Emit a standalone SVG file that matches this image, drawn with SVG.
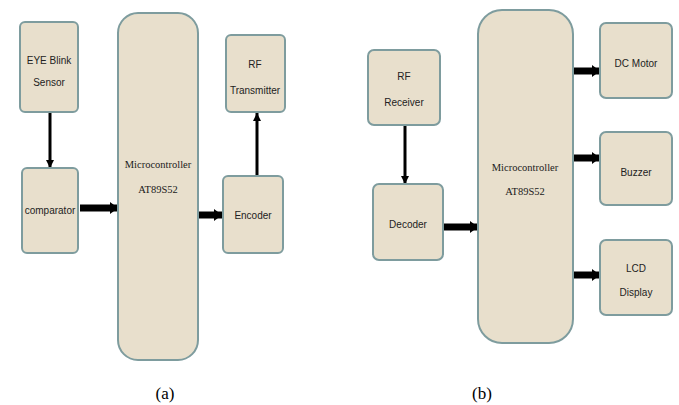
<svg xmlns="http://www.w3.org/2000/svg" width="679" height="405" viewBox="0 0 679 405">
<style>
.box{fill:#E8DFCC;stroke:#7E9C9E;stroke-width:2}
.lbl{font-family:"Liberation Sans Narrow","Liberation Sans",Arial,sans-serif;font-size:10px;fill:#222;text-anchor:middle}
.mc{font-family:"Liberation Serif","Times New Roman",serif;font-size:10.5px;fill:#1a1a1a;text-anchor:middle}
.cap{font-family:"Liberation Serif","Times New Roman",serif;font-size:17px;fill:#000;text-anchor:middle}
.thin{stroke:#000;stroke-width:3;fill:none}
.thick{stroke:#000;stroke-width:7;fill:none}
</style>
<defs>
<marker id="ah" markerUnits="userSpaceOnUse" markerWidth="10" markerHeight="12" refX="8" refY="6" orient="auto">
<path d="M0,0 L8,6 L0,12 z" fill="#000"/>
</marker>
<marker id="ahs" markerUnits="userSpaceOnUse" markerWidth="10" markerHeight="10" refX="8" refY="5" orient="auto">
<path d="M0,1 L8,5 L0,9 z" fill="#000"/>
</marker>
</defs>
<rect width="679" height="405" fill="#fff"/>
<g id="connectors">
<line class="thin" x1="50" y1="112" x2="50" y2="168" marker-end="url(#ahs)"/>
<line class="thick" x1="80" y1="208" x2="118" y2="208" marker-end="url(#ah)"/>
<line class="thick" x1="198" y1="215" x2="222" y2="215" marker-end="url(#ah)"/>
<line class="thin" x1="257" y1="176" x2="257" y2="113" marker-end="url(#ahs)"/>
<line class="thin" x1="405" y1="125" x2="405" y2="184" stroke-width="2" marker-end="url(#ahs)"/>
<line class="thick" x1="444" y1="227" x2="478" y2="227" marker-end="url(#ah)"/>
<line class="thick" x1="573" y1="71" x2="600" y2="71" marker-end="url(#ah)"/>
<line class="thick" x1="573" y1="158" x2="600" y2="158" marker-end="url(#ah)"/>
<line class="thick" x1="573" y1="275" x2="600" y2="275" marker-end="url(#ah)"/>
</g>
<g id="eye-blink">
<rect class="box" x="20" y="22" width="58" height="90" rx="5"/>
<text class="lbl" x="49" y="64">EYE Blink</text>
<text class="lbl" x="49" y="86">Sensor</text>
</g>
<g id="comparator">
<rect class="box" x="22" y="168" width="56" height="85" rx="5"/>
<text class="lbl" x="50" y="214">comparator</text>
</g>
<g id="mcu-a">
<rect class="box" x="118" y="13" width="80" height="347" rx="20"/>
<text class="mc" x="158" y="168">Microcontroller</text>
<text class="mc" x="158" y="193">AT89S52</text>
</g>
<g id="encoder">
<rect class="box" x="223" y="176" width="60" height="77" rx="5"/>
<text class="lbl" x="253" y="219">Encoder</text>
</g>
<g id="rf-tx">
<rect class="box" x="226" y="35" width="59" height="77" rx="5"/>
<text class="lbl" x="255" y="68">RF</text>
<text class="lbl" x="255" y="94">Transmitter</text>
</g>
<g id="rf-rx">
<rect class="box" x="368" y="50" width="72" height="75" rx="6"/>
<text class="lbl" x="404" y="80">RF</text>
<text class="lbl" x="404" y="106">Receiver</text>
</g>
<g id="decoder">
<rect class="box" x="373" y="184" width="70" height="76" rx="6"/>
<text class="lbl" x="408" y="228">Decoder</text>
</g>
<g id="mcu-b">
<rect class="box" x="478" y="10" width="95" height="333" rx="24"/>
<text class="mc" x="525" y="171">Microcontroller</text>
<text class="mc" x="525" y="195">AT89S52</text>
</g>
<g id="dc-motor">
<rect class="box" x="600" y="23" width="72" height="75" rx="6"/>
<text class="lbl" x="636" y="67">DC Motor</text>
</g>
<g id="buzzer">
<rect class="box" x="600" y="132" width="72" height="73" rx="6"/>
<text class="lbl" x="636" y="176">Buzzer</text>
</g>
<g id="lcd">
<rect class="box" x="600" y="240" width="72" height="75" rx="6"/>
<text class="lbl" x="636" y="272">LCD</text>
<text class="lbl" x="636" y="296">Display</text>
</g>
<text class="cap" x="165" y="399">(a)</text>
<text class="cap" x="482" y="399">(b)</text>
</svg>
